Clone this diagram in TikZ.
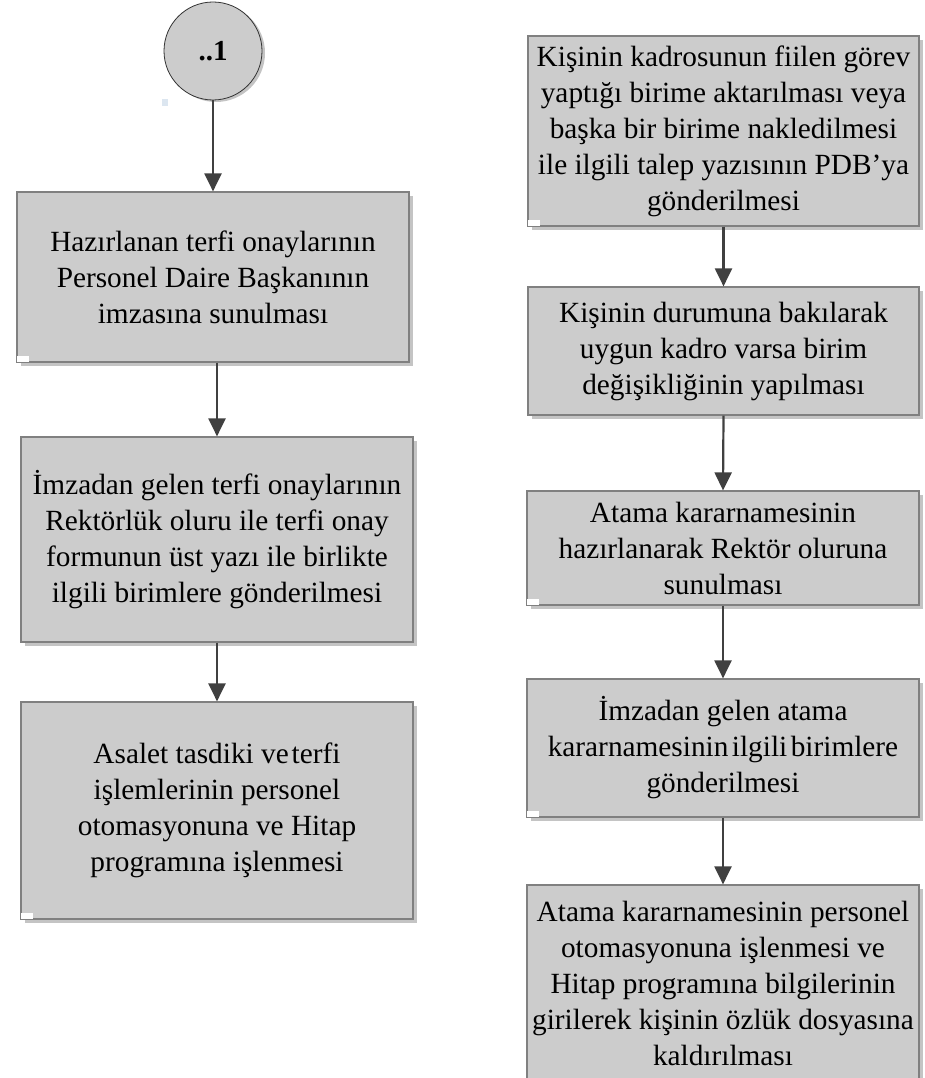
\documentclass[tikz,border=0pt]{standalone}
\usepackage{fontspec}
\setmainfont{Liberation Serif}
\usetikzlibrary{arrows.meta,shadows}
\definecolor{boxfill}{HTML}{CCCCCC}
\definecolor{boxline}{HTML}{808080}
\definecolor{shadecol}{HTML}{C4C4C4}
\definecolor{arrowcol}{HTML}{404040}
\definecolor{dotcol}{HTML}{DCE6F0}
\tikzset{
  stepbox/.style={draw=boxline, fill=boxfill, line width=1.2pt, inner sep=0pt,
    align=center, font=\fontsize{29.3}{36}\selectfont,
    drop shadow={shadow xshift=4pt, shadow yshift=-4pt, fill=shadecol, opacity=1}},
  startcircle/.style={circle, draw=black!80, fill=boxfill, line width=0.8pt, inner sep=0pt,
    minimum size=98pt, font=\fontsize{29}{32}\selectfont\bfseries,
    drop shadow={shadow xshift=3pt, shadow yshift=-2pt, fill=shadecol, opacity=1}},
  flow/.style={draw=arrowcol, line width=2.2pt, -{Triangle[width=17pt,length=18pt]}},
  nick/.style={fill=white, draw=none}
}
\begin{document}
\begin{tikzpicture}[x=1pt,y=-1pt]
\useasboundingbox (0,0) rectangle (925,1078);

% left column
\node[startcircle] (c) at (213,51) {..1};
\fill[dotcol] (162,99) rectangle (168,106);

\node[stepbox, minimum width=392pt, minimum height=170pt] (b1) at (213,277)
  {Hazırlanan terfi onaylarının\\Personel Daire Başkanının\\imzasına sunulması};
\node[stepbox, minimum width=392pt, minimum height=205pt] (b2) at (217,539.5)
  {\raisebox{8pt}{\parbox{390pt}{\centering İmzadan gelen terfi onaylarının\\Rektörlük oluru ile terfi onay\\formunun üst yazı ile birlikte\\ilgili birimlere gönderilmesi}}};
\node[stepbox, minimum width=392pt, minimum height=217pt] (b3) at (217,810.5)
  {Asalet tasdiki ve\hspace{0.1em}terfi\\işlemlerinin personel\\otomasyonuna ve Hitap\\programına işlenmesi};

% right column
\node[stepbox, minimum width=391pt, minimum height=190pt] (r1) at (723.5,131)
  {Kişinin kadrosunun fiilen görev\\yaptığı birime aktarılması veya\\başka bir birime nakledilmesi\\ile ilgili talep yazısının PDB’ya\\gönderilmesi};
\node[stepbox, minimum width=391pt, minimum height=128pt] (r2) at (723.5,351)
  {Kişinin durumuna bakılarak\\uygun kadro varsa birim\\değişikliğinin yapılması};
\node[stepbox, minimum width=392pt, minimum height=114pt] (r3) at (723,548)
  {\raisebox{6pt}{\parbox{385pt}{\centering Atama kararnamesinin\\hazırlanarak Rektör oluruna\\sunulması}}};
\node[stepbox, minimum width=392pt, minimum height=138pt] (r4) at (723,748)
  {İmzadan gelen atama\\kararnamesinin\hspace{0.12em}ilgili\hspace{0.12em}birimlere\\gönderilmesi};
\node[stepbox, minimum width=392pt, minimum height=196pt] (r5) at (723,983)
  {Atama kararnamesinin personel\\otomasyonuna işlenmesi ve\\Hitap programına bilgilerinin\\girilerek kişinin özlük dosyasına\\kaldırılması};

% small white corner marks
\foreach \n in {b1,b3,r1,r3,r4} {
  \fill[nick] ([xshift=1pt,yshift=1pt]\n.south west) rectangle ++(12pt,6pt);
}

% connectors
\draw[flow] (c.south) -- (c.south |- b1.north);
\draw[flow] (b1.south -| b2.north) -- (b2.north);
\draw[flow] (b2.south) -- (b3.north);
\draw[flow] (r1.south) -- (r2.north);
\draw[flow] (r2.south) -- (r3.north);
\draw[flow] (r3.south) -- (r4.north);
\draw[flow] (r4.south) -- (r5.north);
\end{tikzpicture}
\end{document}
